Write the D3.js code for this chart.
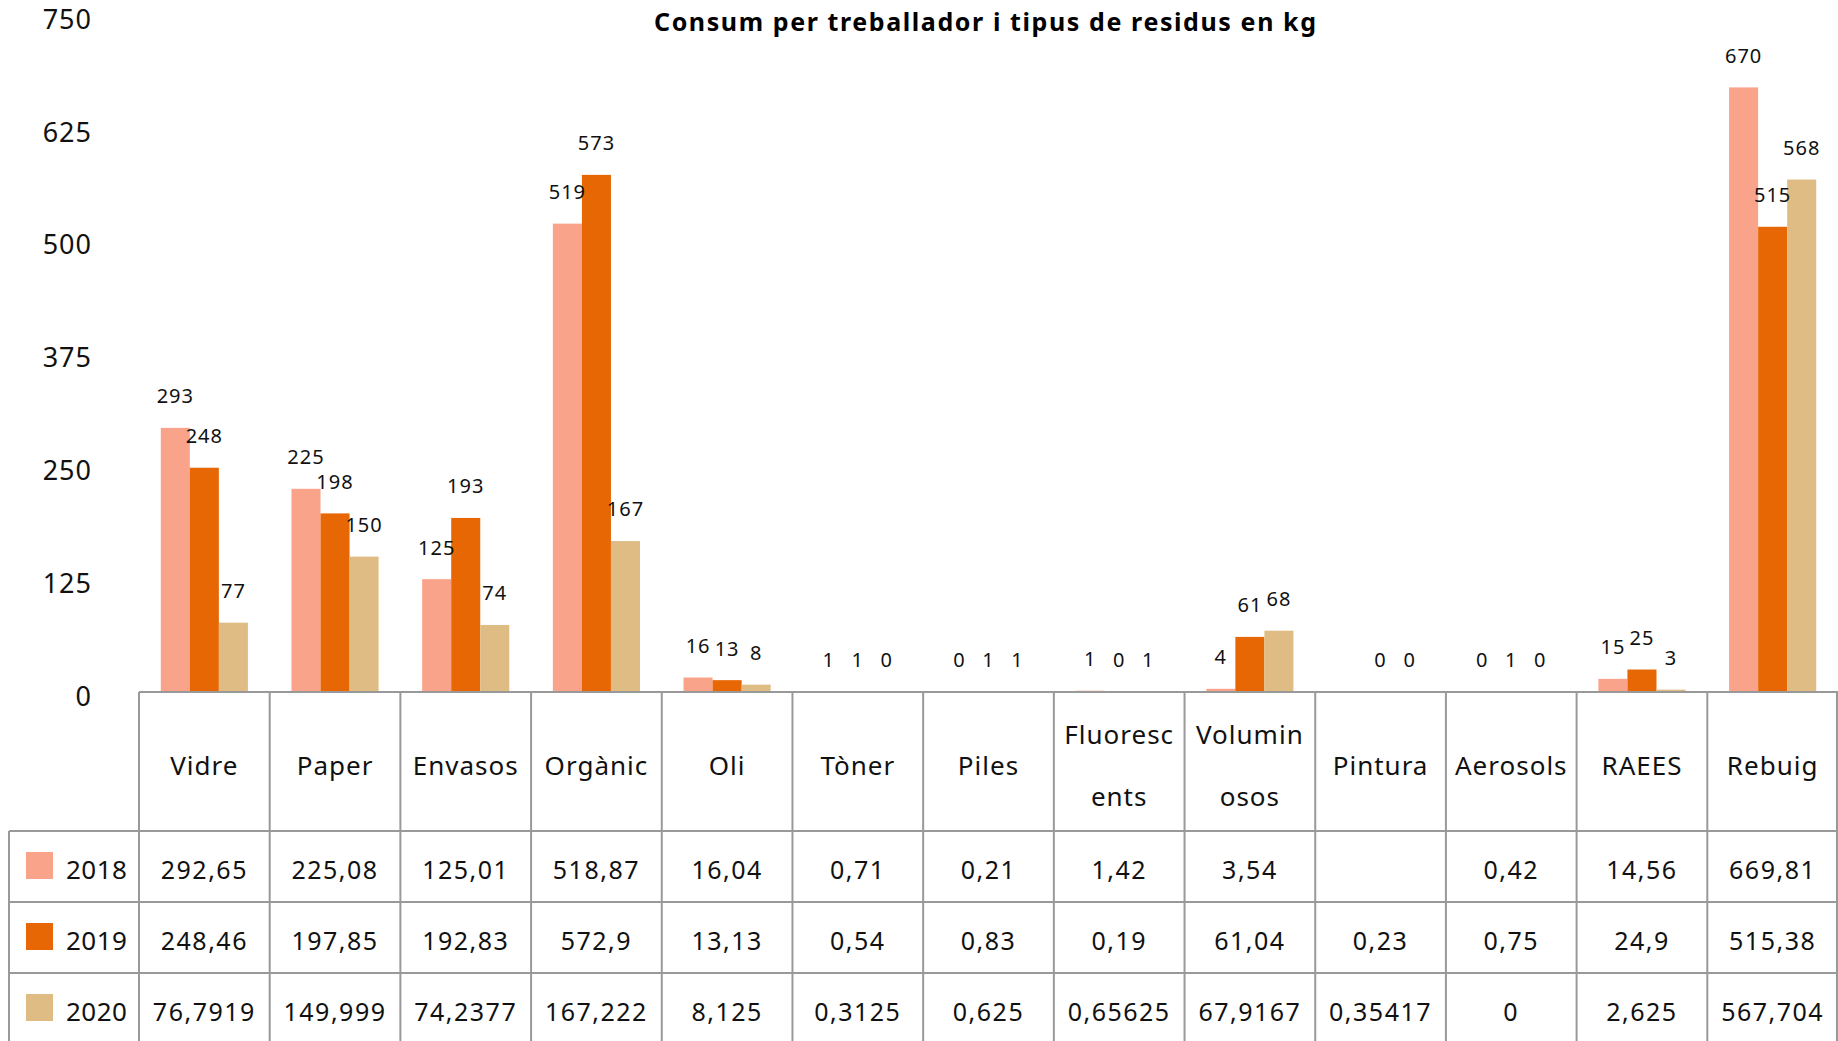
<!DOCTYPE html>
<html>
<head>
<meta charset="utf-8">
<script src="https://cdn.jsdelivr.net/npm/d3@7"></script>
<style>
  body { margin: 0; background: #fff; }
  svg { display: block; font-family: "Noto Sans", sans-serif; }
</style>
</head>
<body>
<div id="chart"></div>
<script>
// data
const categories = ["Vidre", "Paper", "Envasos", "Orgànic", "Oli", "Tòner", "Piles",
  "Fluorescents", "Voluminosos", "Pintura", "Aerosols", "RAEES", "Rebuig"];
const headerLines = [["Vidre"], ["Paper"], ["Envasos"], ["Orgànic"], ["Oli"], ["Tòner"], ["Piles"],
  ["Fluoresc", "ents"], ["Volumin", "osos"], ["Pintura"], ["Aerosols"], ["RAEES"], ["Rebuig"]];
const years = ["2018", "2019", "2020"];
const values2018 = [292.65, 225.08, 125.01, 518.87, 16.04, 0.71, 0.21, 1.42, 3.54, null, 0.42, 14.56, 669.81];
const values2019 = [248.46, 197.85, 192.83, 572.9, 13.13, 0.54, 0.83, 0.19, 61.04, 0.23, 0.75, 24.9, 515.38];
const values2020 = [76.7919, 149.999, 74.2377, 167.222, 8.125, 0.3125, 0.625, 0.65625, 67.9167, 0.35417, 0, 2.625, 567.704];
const yTicks = [0, 125, 250, 375, 500, 625, 750];
const colors = ["#f9a38b", "#e66704", "#dfbc84"];

const series = [values2018, values2019, values2020];

const width = 1838, height = 1041;
const plotLeft = 139, plotRight = 1838, base = 692, plotTop = 15;
const headerH = 139, rowH = 71, legendLeft = 9;
const gridColor = "#999";

const svg = d3.select("#chart").append("svg")
  .attr("width", width).attr("height", height);

const x = d3.scaleBand().domain(categories).range([plotLeft, plotRight]).padding(0);
const y = d3.scaleLinear().domain([0, 750]).range([base, plotTop]);
const bw = x.bandwidth();
const xs = d3.scaleBand().domain(years).range([bw / 6, bw * 5 / 6]).padding(0);

// title
svg.append("text")
  .attr("x", 985).attr("y", 24)
  .attr("text-anchor", "middle").attr("dominant-baseline", "middle")
  .style("font-weight", "bold").style("font-size", "25px")
  .attr("textLength", 662).attr("lengthAdjust", "spacing")
  .text("Consum per treballador i tipus de residus en kg");

// y axis labels
svg.selectAll(".ylab").data(yTicks).join("text")
  .attr("class", "ylab")
  .attr("x", 92).attr("y", d => y(d) + 6.5)
  .attr("text-anchor", "end").attr("dominant-baseline", "middle")
  .style("font-size", "27px").style("letter-spacing", "1px").attr("fill", "#111")
  .text(d => d);

// bars
const flat = [];
categories.forEach((c, i) => {
  years.forEach((yr, j) => {
    flat.push({ cat: c, year: yr, idx: j, v: series[j][i] });
  });
});

svg.selectAll(".bar").data(flat.filter(d => d.v != null)).join("rect")
  .attr("class", "bar")
  .attr("x", d => x(d.cat) + xs(d.year))
  .attr("width", xs.bandwidth())
  .attr("y", d => y(d.v))
  .attr("height", d => base - y(d.v))
  .attr("fill", d => colors[d.idx]);

// value labels
svg.selectAll(".vlab").data(flat.filter(d => d.v != null)).join("text")
  .attr("class", "vlab")
  .attr("x", d => x(d.cat) + xs(d.year) + xs.bandwidth() / 2)
  .attr("y", d => y(d.v) - 30)
  .attr("text-anchor", "middle").attr("dominant-baseline", "middle")
  .style("font-size", "20px").style("letter-spacing", "1px").attr("fill", "#111")
  .text(d => Math.round(d.v));

// table grid
const g = svg.append("g").attr("stroke", gridColor).attr("stroke-width", 2);
const tableBottom = base + headerH + rowH * 3;
// top line (axis)
g.append("line").attr("x1", plotLeft).attr("x2", plotRight).attr("y1", base).attr("y2", base);
// row lines
[0, 1, 2, 3].forEach(r => {
  const yy = base + headerH + rowH * r;
  g.append("line").attr("x1", legendLeft).attr("x2", plotRight).attr("y1", yy).attr("y2", yy);
});
// vertical lines
categories.forEach(c => {
  g.append("line").attr("x1", x(c)).attr("x2", x(c)).attr("y1", base).attr("y2", tableBottom);
});
g.append("line").attr("x1", plotRight - 1).attr("x2", plotRight - 1).attr("y1", base).attr("y2", tableBottom);
g.append("line").attr("x1", legendLeft).attr("x2", legendLeft)
  .attr("y1", base + headerH).attr("y2", tableBottom);

// header labels
categories.forEach((c, i) => {
  const lines = headerLines[i];
  const cy = base + headerH / 2 + 7;
  lines.forEach((ln, k) => {
    const off = lines.length === 1 ? 0 : (k === 0 ? -31 : 31);
    svg.append("text")
      .attr("x", x(c) + bw / 2).attr("y", cy + off)
      .attr("text-anchor", "middle").attr("dominant-baseline", "middle")
      .style("font-size", "26px").style("letter-spacing", "1px").attr("fill", "#111")
      .text(ln);
  });
});

// legend + values rows
years.forEach((yr, j) => {
  const ry = base + headerH + rowH * j;
  svg.append("rect")
    .attr("x", 26).attr("y", ry + 21).attr("width", 27).attr("height", 27)
    .attr("fill", colors[j]);
  svg.append("text")
    .attr("x", 66).attr("y", ry + rowH / 2 + 6)
    .attr("dominant-baseline", "middle")
    .style("font-size", "26px").style("letter-spacing", "0.5px").attr("fill", "#111")
    .text(yr);
  categories.forEach((c, i) => {
    const v = series[j][i];
    if (v == null) return;
    svg.append("text")
      .attr("x", x(c) + bw / 2).attr("y", ry + rowH / 2 + 6)
      .attr("text-anchor", "middle").attr("dominant-baseline", "middle")
      .style("font-size", "25px").style("letter-spacing", "1.5px").attr("fill", "#111")
      .text(String(v).replace(".", ","));
  });
});
</script>
</body>
</html>
